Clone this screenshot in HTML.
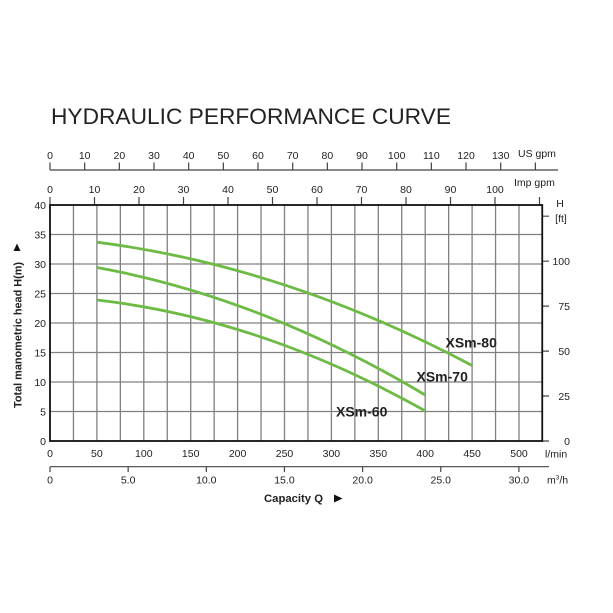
<!DOCTYPE html>
<html><head><meta charset="utf-8"><style>
html,body{margin:0;padding:0;background:#fff;}
svg{display:block;}
text{font-family:"Liberation Sans",Arial,sans-serif;fill:#222;}
</style></head><body>
<svg width="613" height="613" viewBox="0 0 613 613" xmlns="http://www.w3.org/2000/svg">
<rect width="613" height="613" fill="#fff"/>
<text x="51" y="124" font-size="22.5" textLength="400" lengthAdjust="spacingAndGlyphs" fill="#111">HYDRAULIC PERFORMANCE CURVE</text>

<!-- US gpm axis -->
<g stroke="#444" stroke-width="1.2" fill="none">
<path d="M50 170H558"/>
<path d="M50 170V162.5M84.67 170V162.5M119.34 170V162.5M154.01 170V162.5M188.68 170V162.5M223.35 170V162.5M258.02 170V162.5M292.69 170V162.5M327.36 170V162.5M362.03 170V162.5M396.7 170V162.5M431.37 170V162.5M466.04 170V162.5M500.71 170V162.5M535.38 170V162.5"/>
<path d="M50 205V197M94.5 205V197M139 205V197M183.5 205V197M228 205V197M272.5 205V197M317 205V197M361.5 205V197M406 205V197M450.5 205V197M495 205V197M539.5 205V197"/>
<path d="M50 466.7H549"/>
<path d="M50 466.7V472M128.15 466.7V472M206.3 466.7V472M284.45 466.7V472M362.6 466.7V472M440.75 466.7V472M518.9 466.7V472"/>
<path d="M542 216.2H549M542 261.2H549M542 306.1H549M542 351.1H549M542 396H549M542 441H549"/>
</g>
<g font-size="10.5" text-anchor="middle">
<text x="50" y="159">0</text><text x="84.67" y="159">10</text><text x="119.34" y="159">20</text><text x="154.01" y="159">30</text><text x="188.68" y="159">40</text><text x="223.35" y="159">50</text><text x="258.02" y="159">60</text><text x="292.69" y="159">70</text><text x="327.36" y="159">80</text><text x="362.03" y="159">90</text><text x="396.7" y="159">100</text><text x="431.37" y="159">110</text><text x="466.04" y="159">120</text><text x="500.71" y="159">130</text>
<text x="50" y="193">0</text><text x="94.5" y="193">10</text><text x="139" y="193">20</text><text x="183.5" y="193">30</text><text x="228" y="193">40</text><text x="272.5" y="193">50</text><text x="317" y="193">60</text><text x="361.5" y="193">70</text><text x="406" y="193">80</text><text x="450.5" y="193">90</text><text x="495" y="193">100</text>
<text x="50" y="457">0</text><text x="96.9" y="457">50</text><text x="143.8" y="457">100</text><text x="190.7" y="457">150</text><text x="237.6" y="457">200</text><text x="284.5" y="457">250</text><text x="331.4" y="457">300</text><text x="378.3" y="457">350</text><text x="425.2" y="457">400</text><text x="472.1" y="457">450</text><text x="519" y="457">500</text>
<text x="50" y="483.5">0</text><text x="128.15" y="483.5">5.0</text><text x="206.3" y="483.5">10.0</text><text x="284.45" y="483.5">15.0</text><text x="362.6" y="483.5">20.0</text><text x="440.75" y="483.5">25.0</text><text x="518.9" y="483.5">30.0</text>
</g>
<text x="518" y="157" font-size="10.5">US gpm</text>
<text x="514" y="186" font-size="10.5">Imp gpm</text>
<text x="545" y="457.5" font-size="10.5">l/min</text>
<text x="547" y="483.5" font-size="10.5">m<tspan font-size="6.5" dy="-4">3</tspan><tspan dy="4">/h</tspan></text>
<text x="560" y="207" font-size="10.5" text-anchor="middle">H</text>
<text x="561" y="222" font-size="10.5" text-anchor="middle">[ft]</text>
<g font-size="10.5" text-anchor="end">
<text x="46" y="209">40</text><text x="46" y="238.5">35</text><text x="46" y="268">30</text><text x="46" y="297.5">25</text><text x="46" y="327">20</text><text x="46" y="356.5">15</text><text x="46" y="386">10</text><text x="46" y="415.5">5</text><text x="46" y="445">0</text>
<text x="570" y="265.2">100</text><text x="570" y="310.1">75</text><text x="570" y="355.1">50</text><text x="570" y="400">25</text><text x="570" y="445">0</text>
</g>

<!-- grid -->
<path stroke="#808080" stroke-width="1.3" fill="none" d="M73.45 205V441M96.9 205V441M120.35 205V441M143.8 205V441M167.25 205V441M190.7 205V441M214.15 205V441M237.6 205V441M261.05 205V441M284.5 205V441M307.95 205V441M331.4 205V441M354.85 205V441M378.3 205V441M401.75 205V441M425.2 205V441M448.65 205V441M472.1 205V441M495.55 205V441M519 205V441M50 411.5H542M50 382H542M50 352.5H542M50 323H542M50 293.5H542M50 264H542M50 234.5H542"/>
<rect x="50" y="205" width="492.25" height="236" fill="none" stroke="#111" stroke-width="1.8"/>

<!-- curves -->
<g stroke="#6dbb45" stroke-width="2.8" fill="none" stroke-linecap="butt">
<path d="M96.9 242.2Q284.5 266 472.1 365.5"/>
<path d="M96.9 267.5Q261.05 297.2 425.2 395"/>
<path d="M96.9 300Q261.05 318.6 425.2 410.9"/>
</g>
<g font-size="14" font-weight="bold" fill="#111">
<text x="445.5" y="347.5">XSm-80</text>
<text x="416.5" y="381.5">XSm-70</text>
<text x="336" y="416.5">XSm-60</text>
</g>

<text x="264" y="502" font-size="11.3" font-weight="bold">Capacity Q</text>
<path d="M334 494.5L342.5 498.5L334 502.5Z" fill="#111"/>

<text transform="translate(21.5,408) rotate(-90)" font-size="11" font-weight="bold" textLength="146" lengthAdjust="spacingAndGlyphs">Total manometric head H(m)</text>
<path d="M13.5 251L17 243.5L20.5 251Z" fill="#111"/>
</svg>
</body></html>
